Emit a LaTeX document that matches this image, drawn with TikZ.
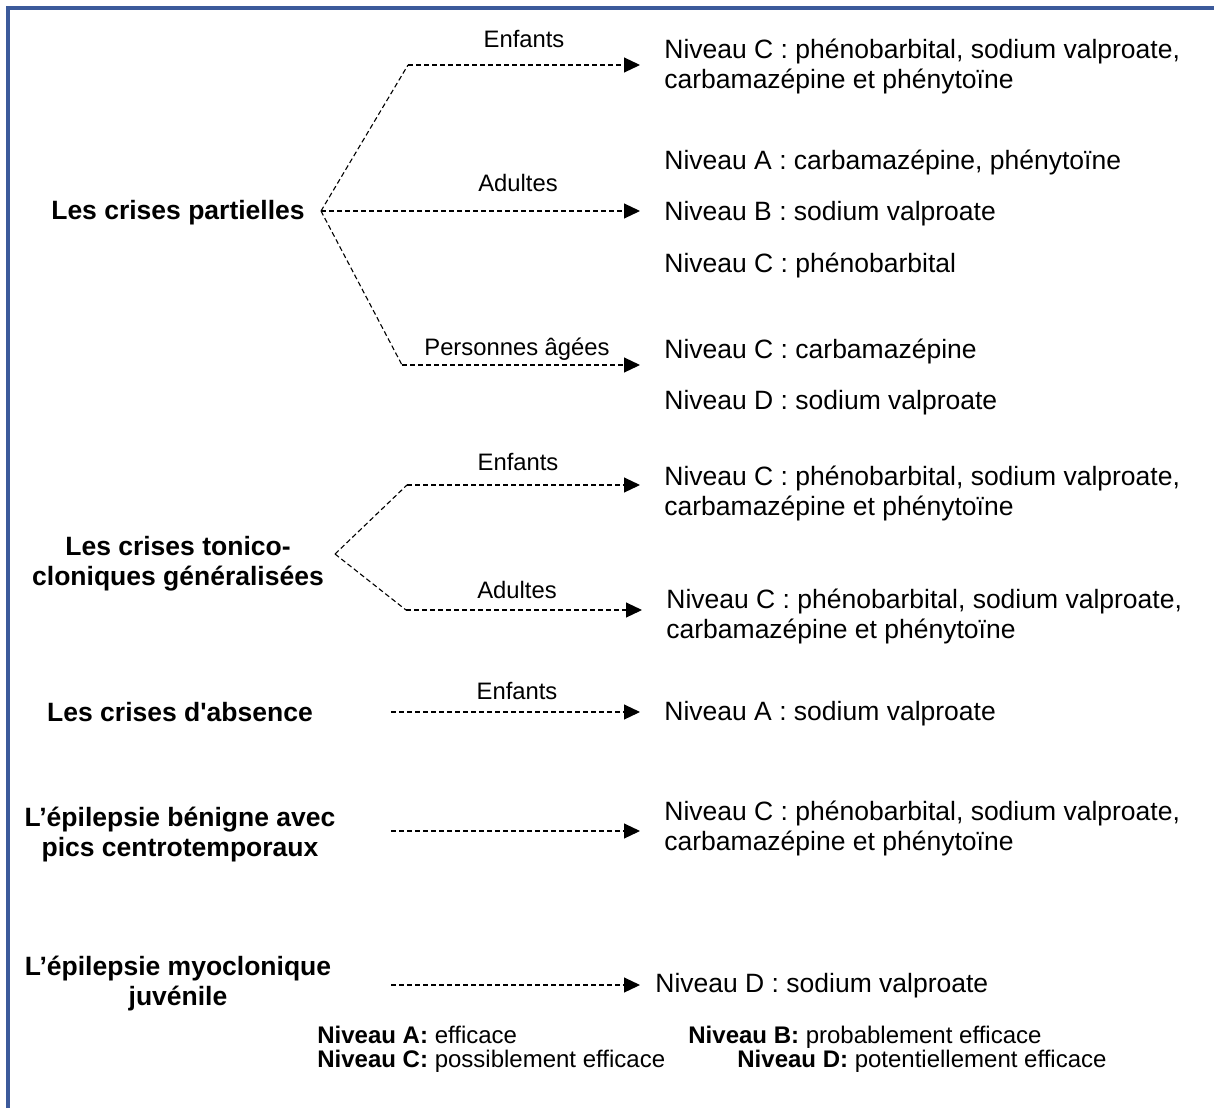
\documentclass[tikz,border=0pt]{standalone}
\usepackage{fontspec}
\setmainfont{Liberation Sans}
\usetikzlibrary{arrows.meta}
\definecolor{frameblue}{RGB}{60,90,155}
\tikzset{
	crise/.style={font=\fontsize{13.25}{15}\selectfont\bfseries, align=center, inner sep=0pt},
	niveau/.style={font=\fontsize{13.25}{15}\selectfont, align=left, anchor=west, inner sep=0pt},
	groupe/.style={font=\fontsize{11.9}{14}\selectfont, inner sep=0pt},
	legende/.style={font=\fontsize{12}{14}\selectfont, anchor=base west, inner sep=0pt},
	branche/.style={dash pattern=on 2.5pt off 1.5pt, line width=0.55pt},
	fleche/.style={branche, shorten >=12pt, -{Triangle[length=8pt,width=7.5pt]}}
}

\begin{document}
\begin{tikzpicture}[x=0.5pt, y=-0.5pt]
		%%%%% START %%%%%
		\useasboundingbox (0, 0) rectangle (1214, 1108);
		\draw[frameblue, line width=2pt] (8, 1108) -- (8, 8) -- (1214, 8);
		
		\node[crise] (partielles) at (178, 213) {Les crises partielles};
		\coordinate (p0) at (321, 211);
		\coordinate (p1) at (408, 65);
		\coordinate (p3) at (402, 365);
		\node[niveau] (pe) at (664, 66) {Niveau C : phénobarbital, sodium valproate,\\carbamazépine et phénytoïne};
		\node[niveau] (pa1) at (664, 162) {Niveau A : carbamazépine, phénytoïne};
		\node[niveau] (pa2) at (664, 214) {Niveau B : sodium valproate};
		\node[niveau] (pa3) at (664, 265) {Niveau C : phénobarbital};
		\node[niveau] (pp1) at (664, 351) {Niveau C : carbamazépine};
		\node[niveau] (pp2) at (664, 403) {Niveau D : sodium valproate};
		\node[groupe] (g1) at (524, 39) {Enfants};
		\node[groupe] (g2) at (518, 183) {Adultes};
		\node[groupe] (g3) at (517, 349) {Personnes âgées};
		\draw[branche] (p0) -- (p1);
		\draw[fleche] (p1) -- (p1 -| pe.west);
		\draw[fleche] (p0) -- (p0 -| pa2.west);
		\draw[branche] (p0) -- (p3);
		\draw[fleche] (p3) -- (p3 -| pp1.west);
		
		\node[crise] (tonico) at (178, 564) {Les crises tonico-\\cloniques généralisées};
		\coordinate (t0) at (335, 554);
		\coordinate (t1) at (407, 485);
		\coordinate (t2) at (406, 610);
		\node[niveau] (te) at (664, 493) {Niveau C : phénobarbital, sodium valproate,\\carbamazépine et phénytoïne};
		\node[niveau] (ta) at (666, 616) {Niveau C : phénobarbital, sodium valproate,\\carbamazépine et phénytoïne};
		\node[groupe] (g4) at (518, 462) {Enfants};
		\node[groupe] (g5) at (517, 590) {Adultes};
		\draw[branche] (t0) -- (t1);
		\draw[fleche] (t1) -- (t1 -| te.west);
		\draw[branche] (t0) -- (t2);
		\draw[fleche] (t2) -- (t2 -| ta.west);
		
		\node[crise] (absence) at (180, 712) {Les crises d\textquotesingle absence};
		\coordinate (a0) at (391, 712);
		\node[niveau] (an) at (664, 714) {Niveau A : sodium valproate};
		\node[groupe] (g6) at (517, 691) {Enfants};
		\draw[fleche] (a0) -- (a0 -| an.west);
		
		\node[crise] (benigne) at (180, 835) {L’épilepsie bénigne avec\\pics centrotemporaux};
		\coordinate (b0) at (391, 831);
		\node[niveau] (bn) at (664, 828) {Niveau C : phénobarbital, sodium valproate,\\carbamazépine et phénytoïne};
		\draw[fleche] (b0) -- (b0 -| bn.west);
		
		\node[crise] (myo) at (178, 984) {L’épilepsie myoclonique\\juvénile};
		\coordinate (m0) at (391, 985);
		\node[niveau] (mn) at (655, 986) {Niveau D : sodium valproate};
		\draw[fleche, shorten >=7.5pt] (m0) -- (m0 -| mn.west);
		
		\node[legende] (lega) at (317, 1043) {\textbf{Niveau A:} efficace};
		\node[legende] (legb) at (688, 1043) {\textbf{Niveau B:} probablement efficace};
		\node[legende] (legc) at (317, 1067) {\textbf{Niveau C:} possiblement efficace};
		\node[legende] (legd) at (737, 1067) {\textbf{Niveau D:} potentiellement efficace};
		%%%%% END %%%%%
	\end{tikzpicture}
\end{document}
